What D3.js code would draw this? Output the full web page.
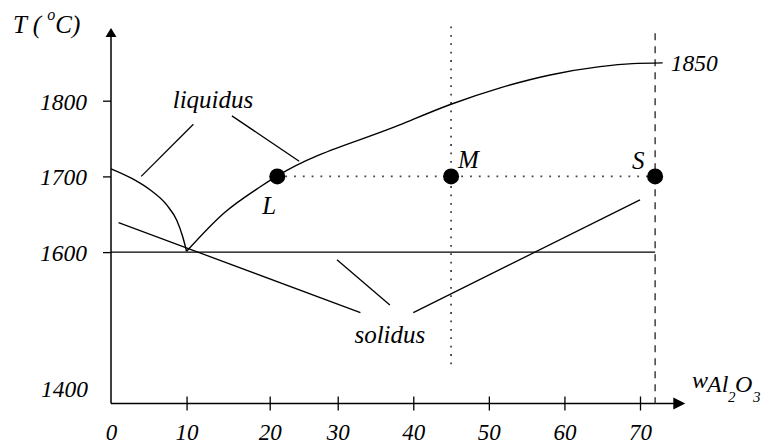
<!DOCTYPE html>
<html>
<head>
<meta charset="utf-8">
<script src="https://cdn.jsdelivr.net/npm/d3@7"></script>
<style>
  body { margin: 0; background: #fff; }
  svg { display: block; }
  svg text { font-family: 'Liberation Serif', Tinos, 'DejaVu Serif', 'Times New Roman', Times, serif; font-style: italic; fill: #000; }
</style>
</head>
<body>
<svg id="chart" width="773" height="444"></svg>
<script>
// composition w(Al2O3) and temperature values
const xTickPos = [0, 10, 21, 30, 40, 50, 60, 70]; // the "20" tick sits off-grid in the original
const xTickLabels = ['0', '10', '20', '30', '40', '50', '60', '70'];
const yTicks = [1600, 1700, 1800];
const yBottomLabel = 1400;

const liquidusLeft = [[0, 1710], [3, 1696], [5.2, 1682], [7.4, 1662], [8.7, 1642], [9.5, 1620], [10, 1601]];
const liquidusRight = [[10, 1601], [15, 1652], [19.7, 1686], [21.9, 1700], [38.2, 1768],
  [44.9, 1795], [51.5, 1817], [58.1, 1834], [64.7, 1845], [69, 1849], [73, 1850]];
const eutecticT = 1600;
const tieLineT = 1700;
const points = [
  { name: 'L', w: 22, T: 1700 },
  { name: 'M', w: 45, T: 1700 },
  { name: 'S', w: 72, T: 1700 }
];
const wM = 45, wS = 72;
const topMelt = 1850;

// leader lines for the labels (in data units)
const leaders = [
  [[10.9, 1769], [4.0, 1700]],
  [[16.0, 1780], [24.9, 1720]],
  [[1.0, 1639], [33.0, 1520]],
  [[29.9, 1590], [36.9, 1530]],
  [[40.0, 1520], [70.0, 1669]]
];

const serif = "'Liberation Serif', Tinos, 'DejaVu Serif', 'Times New Roman', Times, serif";

const svg = d3.select('#chart');

const x = d3.scaleLinear().domain([0, 70]).range([111, 640]);
const y = d3.scaleLinear().domain([1400, 1800]).range([403.5, 100.7]);

const xEnd = 76, yEnd = 1896;

// axes
var xAxis = d3.axisBottom(x)
  .tickValues(xTickPos)
  .tickFormat((d, i) => xTickLabels[i])
  .tickSizeInner(7)
  .tickSizeOuter(0)
  .tickPadding(13);

var gx = svg.append('g')
  .attr('transform', 'translate(0,' + y(1400) + ')')
  .call(xAxis);
gx.attr('font-family', serif).attr('font-size', 23);
gx.select('.domain').remove();
gx.selectAll('.tick line').attr('y1', -7).attr('stroke', '#000').attr('stroke-width', 1.3);
gx.selectAll('.tick').filter(d => d === 0).select('line').remove();

var yAxis = d3.axisLeft(y)
  .tickValues(yTicks)
  .tickFormat(d3.format('d'))
  .tickSizeInner(8)
  .tickSizeOuter(0)
  .tickPadding(16);

var gy = svg.append('g')
  .attr('transform', 'translate(' + x(0) + ',0)')
  .call(yAxis);
gy.attr('font-family', serif).attr('font-size', 23.5);
gy.select('.domain').remove();
gy.selectAll('.tick line').attr('stroke', '#000').attr('stroke-width', 1.3);
gy.selectAll('.tick text').attr('dy', '0.36em');

svg.append('text')
  .attr('x', x(0) - 23)
  .attr('y', y(yBottomLabel) - 7)
  .attr('text-anchor', 'end')
  .style('font-size', '23.5px')
  .text(yBottomLabel);

// axis lines with arrow heads
svg.append('line')
  .attr('x1', x(0)).attr('y1', y(1400))
  .attr('x2', x(xEnd) - 10).attr('y2', y(1400))
  .attr('stroke', '#000').attr('stroke-width', 1.5);
svg.append('path')
  .attr('d', d3.line()([[x(xEnd), y(1400)], [x(xEnd) - 12, y(1400) - 6], [x(xEnd) - 12, y(1400) + 6]]) + 'Z')
  .attr('fill', '#000');

svg.append('line')
  .attr('x1', x(0)).attr('y1', y(1400))
  .attr('x2', x(0)).attr('y2', y(yEnd) + 7)
  .attr('stroke', '#000').attr('stroke-width', 1.5);
svg.append('path')
  .attr('d', d3.line()([[x(0), y(yEnd)], [x(0) - 5.5, y(yEnd) + 9], [x(0) + 5.5, y(yEnd) + 9]]) + 'Z')
  .attr('fill', '#000');

// axis titles
var tLabel = svg.append('text')
  .attr('x', 13)
  .attr('y', 33)
  .style('font-size', '25px');
tLabel.append('tspan').text('T ( ');
tLabel.append('tspan').attr('dy', -13).style('font-size', '16px').text('o');
tLabel.append('tspan').attr('dy', 13).text('C)');

var wLabel = svg.append('text')
  .attr('x', 692)
  .attr('y', 388)
  .style('font-size', '24px');
wLabel.append('tspan').text('w');
wLabel.append('tspan').attr('x', 707).attr('y', 392).text('Al');
wLabel.append('tspan').attr('x', 728).attr('y', 402).style('font-size', '15px').text('2');
wLabel.append('tspan').attr('x', 735).attr('y', 392).text('O');
wLabel.append('tspan').attr('x', 753).attr('y', 402).style('font-size', '15px').text('3');

// reference lines
svg.append('line')
  .attr('x1', x(wS)).attr('y1', y(1889))
  .attr('x2', x(wS)).attr('y2', y(1400))
  .attr('stroke', '#222').attr('stroke-width', 1.3)
  .attr('stroke-dasharray', '7,6');

svg.append('line')
  .attr('x1', x(wM)).attr('y1', y(1898))
  .attr('x2', x(wM)).attr('y2', y(1444))
  .attr('stroke', '#444').attr('stroke-width', 1.8)
  .attr('stroke-dasharray', '1.8,6.6');

svg.append('line')
  .attr('x1', x(points[0].w) + 8).attr('y1', y(tieLineT))
  .attr('x2', x(wS)).attr('y2', y(tieLineT))
  .attr('stroke', '#444').attr('stroke-width', 1.8)
  .attr('stroke-dasharray', '1.8,7');

// eutectic (solidus) line
svg.append('line')
  .attr('x1', x(0)).attr('y1', y(eutecticT))
  .attr('x2', x(wS)).attr('y2', y(eutecticT))
  .attr('stroke', '#000').attr('stroke-width', 1.4);

// liquidus curves
var line = d3.line()
  .x(d => x(d[0]))
  .y(d => y(d[1]))
  .curve(d3.curveMonotoneX);

[liquidusLeft, liquidusRight].forEach(function (c) {
  svg.append('path')
    .attr('d', line(c))
    .attr('fill', 'none')
    .attr('stroke', '#000')
    .attr('stroke-width', 1.4);
});

svg.append('text')
  .attr('x', x(73) + 8)
  .attr('y', y(topMelt) + 8)
  .style('font-size', '23.5px')
  .text(topMelt);

// leader lines
leaders.forEach(function (l) {
  svg.append('line')
    .attr('x1', x(l[0][0])).attr('y1', y(l[0][1]))
    .attr('x2', x(l[1][0])).attr('y2', y(l[1][1]))
    .attr('stroke', '#000').attr('stroke-width', 1.3);
});

svg.append('text')
  .attr('x', x(13.5))
  .attr('y', 108)
  .attr('text-anchor', 'middle')
  .style('font-size', '25px')
  .text('liquidus');

svg.append('text')
  .attr('x', x(36.9))
  .attr('y', 342.7)
  .attr('text-anchor', 'middle')
  .style('font-size', '25px')
  .text('solidus');

// points L, M, S
svg.selectAll('circle.pt')
  .data(points)
  .join('circle')
  .attr('class', 'pt')
  .attr('cx', d => x(d.w))
  .attr('cy', d => y(d.T))
  .attr('r', 8)
  .attr('fill', '#000');

var labelOffset = { L: [-15, 38], M: [7, -8], S: [-23, -7] };
svg.selectAll('text.pt')
  .data(points)
  .join('text')
  .attr('class', 'pt')
  .attr('x', d => x(d.w) + labelOffset[d.name][0])
  .attr('y', d => y(d.T) + labelOffset[d.name][1])
  .style('font-size', '25px')
  .text(d => d.name);
</script>
</body>
</html>
